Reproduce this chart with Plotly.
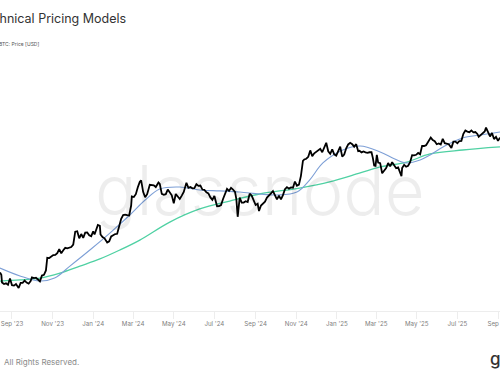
import plotly.graph_objects as go

# ---- BTC price (USD, thousands) ----
price_dates = [
"2023-08-14","2023-08-16","2023-08-17","2023-08-20","2023-08-23","2023-08-26","2023-08-29","2023-09-01","2023-09-04","2023-09-07",
"2023-09-11","2023-09-14","2023-09-17","2023-09-20","2023-09-23","2023-09-26","2023-09-29","2023-10-01","2023-10-04","2023-10-07",
"2023-10-10","2023-10-13","2023-10-16","2023-10-19","2023-10-22","2023-10-24","2023-10-27","2023-10-30","2023-11-02","2023-11-05",
"2023-11-08","2023-11-11","2023-11-14","2023-11-17","2023-11-20","2023-11-23","2023-11-26","2023-11-29","2023-12-02","2023-12-05",
"2023-12-08","2023-12-11","2023-12-14","2023-12-17","2023-12-20","2023-12-23","2023-12-26","2023-12-29","2024-01-01","2024-01-03",
"2024-01-08","2024-01-11","2024-01-12","2024-01-15","2024-01-18","2024-01-22","2024-01-25","2024-01-28","2024-01-31","2024-02-03",
"2024-02-06","2024-02-09","2024-02-12","2024-02-15","2024-02-18","2024-02-21","2024-02-24","2024-02-27","2024-02-28","2024-03-02",
"2024-03-05","2024-03-08","2024-03-11","2024-03-13","2024-03-16","2024-03-19","2024-03-22","2024-03-26","2024-03-29","2024-04-01",
"2024-04-04","2024-04-08","2024-04-10","2024-04-13","2024-04-16","2024-04-19","2024-04-22","2024-04-25","2024-04-28","2024-05-01",
"2024-05-04","2024-05-07","2024-05-10","2024-05-13","2024-05-16","2024-05-20","2024-05-23","2024-05-26","2024-05-29","2024-06-01",
"2024-06-04","2024-06-07","2024-06-10","2024-06-13","2024-06-16","2024-06-19","2024-06-22","2024-06-25","2024-06-28","2024-07-01",
"2024-07-05","2024-07-08","2024-07-11","2024-07-14","2024-07-17","2024-07-20","2024-07-23","2024-07-26","2024-07-29","2024-08-01",
"2024-08-03","2024-08-05","2024-08-08","2024-08-11","2024-08-14","2024-08-17","2024-08-20","2024-08-23","2024-08-26","2024-08-29",
"2024-09-01","2024-09-04","2024-09-06","2024-09-09","2024-09-12","2024-09-15","2024-09-18","2024-09-21","2024-09-24","2024-09-27",
"2024-09-30","2024-10-03","2024-10-06","2024-10-09","2024-10-12","2024-10-15","2024-10-18","2024-10-21","2024-10-24","2024-10-27",
"2024-10-30","2024-11-02","2024-11-05","2024-11-08","2024-11-11","2024-11-13","2024-11-16","2024-11-19","2024-11-22","2024-11-25",
"2024-11-28","2024-12-01","2024-12-04","2024-12-07","2024-12-10","2024-12-13","2024-12-16","2024-12-19","2024-12-22","2024-12-25",
"2024-12-28","2024-12-31","2025-01-03","2025-01-06","2025-01-09","2025-01-12","2025-01-15","2025-01-18","2025-01-21","2025-01-24",
"2025-01-27","2025-01-30","2025-02-02","2025-02-04","2025-02-07","2025-02-10","2025-02-13","2025-02-16","2025-02-19","2025-02-22",
"2025-02-24","2025-02-26","2025-02-28","2025-03-02","2025-03-04","2025-03-07","2025-03-10","2025-03-13","2025-03-16","2025-03-19",
"2025-03-22","2025-03-25","2025-03-28","2025-03-31","2025-04-03","2025-04-06","2025-04-08","2025-04-09","2025-04-12","2025-04-15",
"2025-04-18","2025-04-21","2025-04-24","2025-04-27","2025-04-30","2025-05-03","2025-05-06","2025-05-09","2025-05-12","2025-05-15",
"2025-05-18","2025-05-22","2025-05-25","2025-05-28","2025-05-31","2025-06-03","2025-06-06","2025-06-09","2025-06-12","2025-06-15",
"2025-06-18","2025-06-22","2025-06-25","2025-06-28","2025-07-01","2025-07-04","2025-07-07","2025-07-10","2025-07-13","2025-07-16",
"2025-07-19","2025-07-22","2025-07-25","2025-07-28","2025-07-31","2025-08-02","2025-08-05","2025-08-08","2025-08-11","2025-08-13",
"2025-08-16","2025-08-19","2025-08-22","2025-08-25","2025-08-28","2025-08-31","2025-09-03",
]
price_k = [
29.4,28.7,26.6,26.2,26.4,26.0,27.7,25.9,25.8,26.2,
25.2,26.5,26.5,27.1,26.6,26.3,27.0,28.0,27.8,27.9,
27.4,26.9,28.5,28.7,30.0,34.0,33.9,34.5,34.9,35.0,
35.6,37.0,35.5,36.6,37.5,37.3,37.5,37.8,38.7,44.0,
44.2,41.2,43.0,41.4,43.6,43.7,42.5,42.1,44.2,42.8,
47.0,46.6,42.8,41.7,41.2,39.5,40.0,42.0,42.5,43.0,
43.1,47.1,50.0,51.9,52.1,51.8,51.7,57.0,62.4,62.0,
63.8,68.3,72.1,73.1,65.3,61.9,63.8,70.0,69.9,69.7,
68.5,71.6,70.6,64.0,63.4,63.8,66.8,64.5,63.1,58.3,
63.9,62.3,60.8,62.9,65.2,71.4,67.9,68.5,67.6,67.7,
70.5,69.3,69.5,66.8,66.6,65.0,64.3,61.8,60.3,62.7,
56.6,56.7,57.3,60.8,64.1,67.2,65.9,67.9,66.8,65.3,
60.7,51.0,61.7,58.7,58.7,59.5,59.0,64.1,62.9,59.4,
57.3,58.0,54.0,57.0,58.1,59.2,61.7,63.3,64.3,65.8,
63.3,60.6,62.8,60.6,63.2,67.0,68.4,67.4,68.2,68.0,
72.3,69.4,70.1,76.5,88.7,90.0,90.6,92.3,98.4,93.0,
95.6,97.3,98.8,99.9,96.6,101.4,106.1,97.5,95.1,99.4,
94.6,93.4,98.1,102.1,92.5,94.5,100.5,104.4,106.1,104.7,
102.1,104.7,97.7,98.0,96.5,97.4,96.6,96.1,96.6,96.6,
91.4,84.7,84.4,94.2,87.2,86.7,78.5,80.9,82.6,86.8,
84.0,87.5,84.3,82.5,83.1,78.3,76.3,82.6,85.3,83.7,
84.5,87.5,93.9,93.7,94.2,95.9,94.7,102.9,102.8,103.6,
106.5,111.7,109.0,107.8,104.6,105.4,104.3,110.3,105.7,105.5,
104.6,100.9,107.3,107.4,105.7,108.0,108.2,116.0,119.8,118.6,
117.9,119.9,117.6,118.0,115.8,112.5,114.2,116.7,118.7,123.3,
117.4,113.0,116.9,110.1,112.6,108.2,111.7,
]

# ---- Faster moving average (blue) ----
blue_dates = ["2023-08-14","2023-09-13","2023-10-13","2023-11-04","2023-11-27","2023-12-27","2024-01-26","2024-02-25",
              "2024-03-19","2024-04-10","2024-05-10","2024-06-09","2024-07-09","2024-08-08","2024-09-07","2024-10-03",
              "2024-11-02","2024-11-21","2024-12-11","2025-01-10","2025-02-05","2025-03-07","2025-03-29","2025-04-16",
              "2025-05-06","2025-05-21","2025-06-12","2025-07-09","2025-08-04","2025-09-03"]
blue_k = [30.7,28.4,27.0,27.8,31.3,36.7,43.4,51.9,
          60.2,67.2,68.5,66.5,65.9,65.2,63.9,63.3,
          65.2,73.4,86.9,98.8,102.8,96.9,90.4,86.9,
          89.5,94.0,102.8,111.3,114.6,118.1]

# ---- Slower moving average (green) ----
green_dates = ["2023-08-14","2023-09-13","2023-10-13","2023-11-12","2023-12-12","2024-01-11","2024-02-10","2024-03-11",
               "2024-04-25","2024-06-09","2024-07-24","2024-09-07","2024-11-06","2024-12-21","2025-02-05","2025-03-07",
               "2025-04-16","2025-05-21","2025-07-09","2025-09-03"]
green_k = [27.0,27.3,27.8,29.2,31.3,33.6,36.7,40.5,
           48.4,55.1,59.6,63.9,67.8,72.0,78.7,83.5,
           87.7,95.0,98.8,101.8]

tick_vals = ["2023-09-01","2023-11-01","2024-01-01","2024-03-01","2024-05-01","2024-07-01","2024-09-01",
             "2024-11-01","2025-01-01","2025-03-01","2025-05-01","2025-07-01","2025-09-01"]
tick_text = ["Sep '23","Nov '23","Jan '24","Mar '24","May '24","Jul '24","Sep '24",
             "Nov '24","Jan '25","Mar '25","May '25","Jul '25","Sep '25"]

FONT = "Inter, Roboto, sans-serif"

fig = go.Figure()
fig.add_trace(go.Scatter(x=green_dates, y=[v * 1000 for v in green_k], mode="lines",
                         line=dict(color="#4fd1a3", width=1.3, shape="spline"), name="200DMA"))
fig.add_trace(go.Scatter(x=blue_dates, y=[v * 1000 for v in blue_k], mode="lines",
                         line=dict(color="#7d9fd6", width=1.1, shape="spline"), name="MA"))
fig.add_trace(go.Scatter(x=price_dates, y=[v * 1000 for v in price_k], mode="lines",
                         line=dict(color="#000000", width=1.8), name="BTC: Price [USD]"))

W, H = 500, 383
L, R, T, B = 0, 0, 50, 72
ph = H - T - B

def py(pix):
    return (H - B - pix) / ph

fig.update_layout(
    width=W, height=H, template="none",
    margin=dict(l=L, r=R, t=T, b=B, pad=0),
    paper_bgcolor="white", plot_bgcolor="white",
    showlegend=False,
    xaxis=dict(type="date", range=["2023-08-14", "2025-09-03"], tickmode="array",
               tickvals=tick_vals, ticktext=tick_text, showgrid=False, zeroline=False,
               showline=True, linecolor="#ededed", linewidth=1,
               ticks="outside", ticklen=7, tickcolor="#ededed", tickwidth=1,
               tickfont=dict(family=FONT, size=6.2, color="#808080"),
               ticklabeloverflow="allow", automargin=False),
    yaxis=dict(type="log", range=[4.3025, 5.4247], visible=False, showgrid=False,
               automargin=False),
    annotations=[
        dict(text="glassnode", xref="paper", yref="paper", x=0.52, y=py(190),
             showarrow=False, xanchor="center", yanchor="middle",
             font=dict(family=FONT, size=69, color="rgba(0,0,0,0.07)", weight=300)),
        dict(text="Technical Pricing Models", xref="paper", yref="paper", x=-24 / W, y=py(18),
             showarrow=False, xanchor="left", yanchor="middle",
             font=dict(family=FONT, size=12.5, color="#333333")),
        dict(text="BTC: Price [USD]", xref="paper", yref="paper", x=-3.5 / W, y=py(44),
             showarrow=False, xanchor="left", yanchor="middle",
             font=dict(family=FONT, size=5, color="#555555")),
        dict(text="All Rights Reserved.", xref="paper", yref="paper", x=2 / W, y=py(362),
             showarrow=False, xanchor="left", yanchor="middle",
             font=dict(family=FONT, size=8, color="#8a8a8a")),
        dict(text="glassnode", xref="paper", yref="paper", x=488 / W, y=py(359),
             showarrow=False, xanchor="left", yanchor="middle",
             font=dict(family=FONT, size=17, color="#333333", weight=500)),
    ],
)

fig.write_html("out.html", config={"displayModeBar": False},
               post_script="document.body.style.margin='0';document.body.style.overflow='hidden';")
